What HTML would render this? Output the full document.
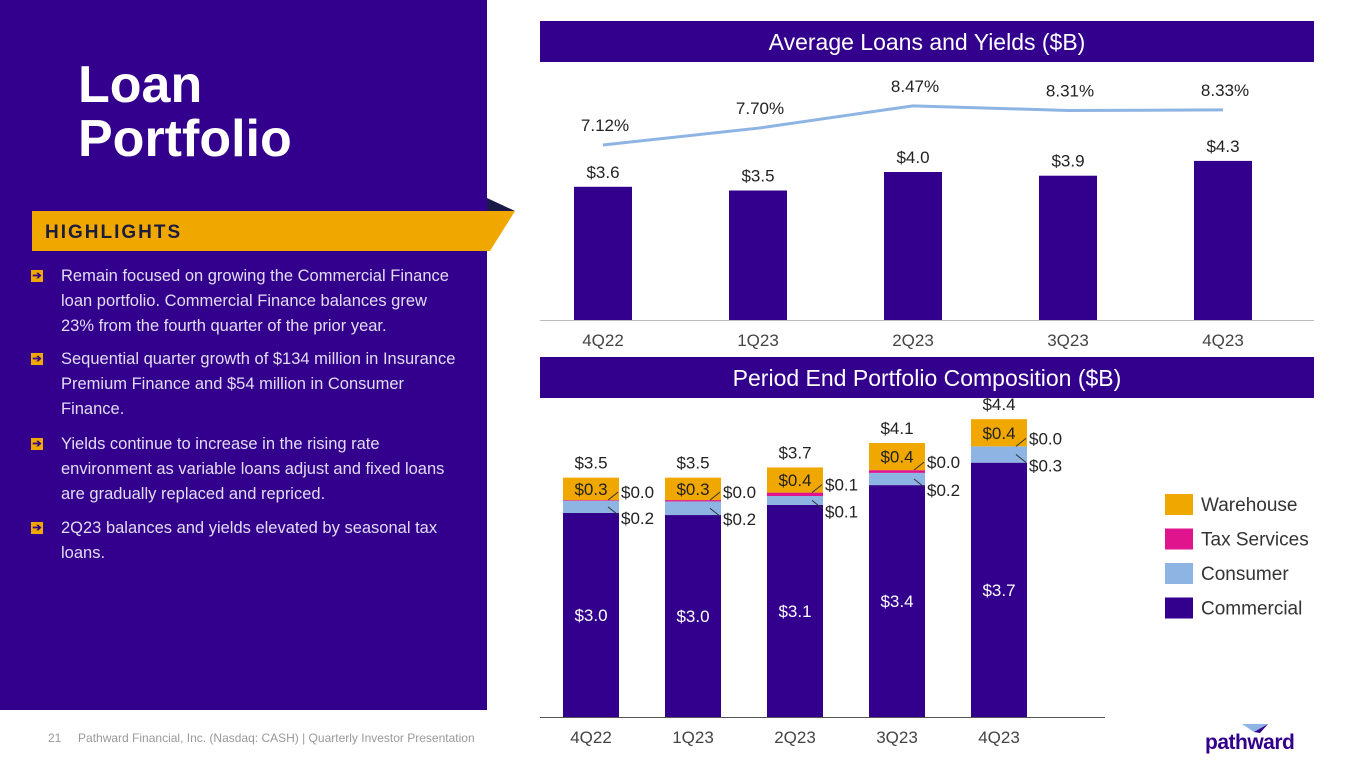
<!DOCTYPE html>
<html><head><meta charset="utf-8"><style>
body{margin:0;width:1365px;height:768px;position:relative;overflow:hidden;background:#fff;font-family:"Liberation Sans",sans-serif}
.abs{position:absolute}
.hdr{position:absolute;left:540px;width:774px;height:41px;background:#32008c;color:#fff;font-size:23px;text-align:center;line-height:42px}
.bl{position:absolute;left:31px;width:430px;color:#e2dcf2;font-size:16.5px;line-height:25px}
.bl span.ar{position:absolute;left:0;top:6px;width:12px;height:12px;background:#f0a800;color:#32008c;font-size:11px;line-height:12px;text-align:center;font-weight:bold}
.bl div{margin-left:30px}
</style></head><body>
<div class="abs" style="left:0;top:0;width:487px;height:710px;background:#32008c"></div>
<div class="abs" style="left:78px;top:58px;color:#fff;font-size:52px;font-weight:bold;line-height:54px">Loan<br>Portfolio</div>
<svg class="abs" style="left:0;top:190px" width="520" height="70">
<polygon points="487,8 515,21 487,21" fill="#1a1a4a"/>
<polygon points="32,21 515,21 490,61 32,61" fill="#f0a800"/>
<text x="45" y="48" font-family="Liberation Sans" font-weight="bold" font-size="19" letter-spacing="2" fill="#1c1c3c">HIGHLIGHTS</text>
</svg>
<div class="bl" style="top:264px"><span class="ar">➔</span><div>Remain focused on growing the Commercial Finance loan portfolio. Commercial Finance balances grew 23% from the fourth quarter of the prior year.</div></div>
<div class="bl" style="top:347px"><span class="ar">➔</span><div>Sequential quarter growth of $134 million in Insurance Premium Finance and $54 million in Consumer Finance.</div></div>
<div class="bl" style="top:432px"><span class="ar">➔</span><div>Yields continue to increase in the rising rate environment as variable loans adjust and fixed loans are gradually replaced and repriced.</div></div>
<div class="bl" style="top:516px"><span class="ar">➔</span><div>2Q23 balances and yields elevated by seasonal tax loans.</div></div>
<div class="abs" style="left:48px;top:731px;font-size:12px;color:#999">21&nbsp;&nbsp;&nbsp;&nbsp;&nbsp;Pathward Financial, Inc. (Nasdaq: CASH) | Quarterly Investor Presentation</div>
<div class="abs" style="left:1205px;top:731px;font-size:21px;font-weight:bold;color:#32008c;letter-spacing:-0.5px">pathward</div>
<svg class="abs" style="left:1240px;top:722px" width="30" height="12"><polygon points="2,2 28,2 14,10" fill="#8db4e2"/><polygon points="14,10 28,2 20,11" fill="#32008c"/></svg>
<div class="hdr" style="top:21px">Average Loans and Yields ($B)</div>
<div class="hdr" style="top:357px">Period End Portfolio Composition ($B)</div>
<svg id="c1" class="abs" style="left:0;top:0" width="1365" height="768"></svg>
<script>
const quarters=["4Q22","1Q23","2Q23","3Q23","4Q23"];
const avgLoans=[3.6,3.5,4.0,3.9,4.3];
const avgLoanLabels=["$3.6","$3.5","$4.0","$3.9","$4.3"];
const yields=[7.12,7.70,8.47,8.31,8.33];
const yieldLabels=["7.12%","7.70%","8.47%","8.31%","8.33%"];
const commercial=[3.0,2.97,3.12,3.41,3.74];
const consumer=[0.18,0.2,0.13,0.18,0.24];
const taxSvc=[0.01,0.02,0.05,0.04,0.0];
const warehouse=[0.33,0.33,0.37,0.4,0.40];
const commLabels=["$3.0","$3.0","$3.1","$3.4","$3.7"];
const consLabels=["$0.2","$0.2","$0.1","$0.2","$0.3"];
const taxLabels=["$0.0","$0.0","$0.1","$0.0","$0.0"];
const whLabels=["$0.3","$0.3","$0.4","$0.4","$0.4"];
const totalLabels=["$3.5","$3.5","$3.7","$4.1","$4.4"];
const svg=document.getElementById('c1');
const NS='http://www.w3.org/2000/svg';
function mk(t,a,txt){const e=document.createElementNS(NS,t);for(const k in a)e.setAttribute(k,a[k]);if(txt!==undefined)e.textContent=txt;svg.appendChild(e);return e;}
const x1=i=>603+i*155, y1=v=>320-v*37, yl=v=>145-(v-7.12)*29;
let l=mk('line',{x1:540,x2:1314,y1:320.5,y2:320.5,stroke:'#bbb','stroke-width':1});

quarters.forEach((q,i)=>{
 let b=mk('rect',{x:x1(i)-29,y:y1(avgLoans[i]),width:58,height:320-y1(avgLoans[i]),fill:'#32008c'});
 
 let t=mk('text',{x:x1(i),y:y1(avgLoans[i])-9,'text-anchor':'middle','font-size':17,fill:'#222'},avgLoanLabels[i]);
 
 let a=mk('text',{x:x1(i),y:346,'text-anchor':'middle','font-size':17,fill:'#444'},q);
 
 let y=mk('text',{x:x1(i)+2,y:yl(yields[i])-14,'text-anchor':'middle','font-size':17,fill:'#222'},yieldLabels[i]);
 
});
let p=mk('polyline',{points:yields.map((v,i)=>x1(i)+','+yl(v)).join(' '),fill:'none',stroke:'#8db4e2','stroke-width':3});

const x2=i=>591+i*102, y2=v=>717-v*68;
quarters.forEach((q,i)=>{
 let base=0;
 const segs=[[commercial,'#32008c','commercial'],[consumer,'#8db4e2','consumer'],[taxSvc,'#e0148c','tax-services'],[warehouse,'#f0a800','warehouse']];
 const tops=[];
 segs.forEach(([arr,c,n])=>{
  let r=mk('rect',{x:x2(i)-28,y:y2(base+arr[i]),width:56,height:arr[i]*68,fill:c});
  
  tops.push([base,base+arr[i]]);base+=arr[i];
 });
 let t=mk('text',{x:x2(i),y:y2((tops[0][0]+tops[0][1])/2)+6,'text-anchor':'middle','font-size':17,fill:'#fff'},commLabels[i]);
 
 t=mk('text',{x:x2(i),y:y2((tops[3][0]+tops[3][1])/2)+6,'text-anchor':'middle','font-size':17,fill:'#222'},whLabels[i]);
 
 t=mk('text',{x:x2(i),y:y2(base)-9,'text-anchor':'middle','font-size':17,fill:'#222'},totalLabels[i]);
 
 const cy=y2((tops[1][0]+tops[1][1])/2), ty=y2(tops[2][1]);
 mk('line',{x1:x2(i)+17,y1:cy,x2:x2(i)+27,y2:cy+8,stroke:'#333','stroke-width':1});
 t=mk('text',{x:x2(i)+30,y:cy+17,'font-size':17,fill:'#222'},consLabels[i]);
 
 mk('line',{x1:x2(i)+17,y1:ty,x2:x2(i)+27,y2:ty-8,stroke:'#333','stroke-width':1});
 t=mk('text',{x:x2(i)+30,y:ty-2,'font-size':17,fill:'#222'},taxLabels[i]);
 
 let a=mk('text',{x:x2(i),y:743,'text-anchor':'middle','font-size':17,fill:'#444'},q);
 
});
l=mk('line',{x1:540,x2:1105,y1:717.5,y2:717.5,stroke:'#555','stroke-width':1});

const legNames=["Warehouse","Tax Services","Consumer","Commercial"];
const legCols=['#f0a800','#e0148c','#8db4e2','#32008c'];
legNames.forEach((n,i)=>{
 let r=mk('rect',{x:1165,y:494+i*34.5,width:28,height:21,fill:legCols[i]});
 
 let t=mk('text',{x:1201,y:511+i*34.5,'font-size':19,fill:'#333'},n);
 
});
</script>
</body></html>
